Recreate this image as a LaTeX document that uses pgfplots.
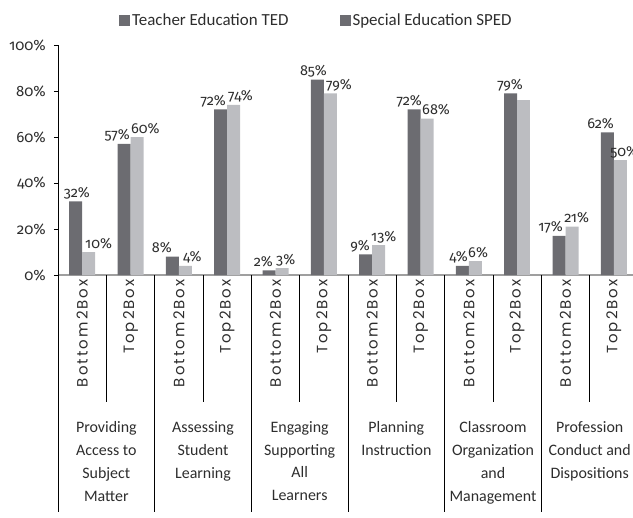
\documentclass[border=0pt]{standalone}
\usepackage{pgfplots}
\usepackage{pgfplotstable}
\pgfplotsset{compat=1.18}
\usepackage{fontspec}
\setmainfont{Carlito}
\newfontfamily\numfont{Fira Sans}[Numbers=OldStyle]
\newfontfamily\rotfont{Poppins}[LetterSpace=14]
\definecolor{ted}{RGB}{108,108,113}
\definecolor{sped}{RGB}{188,189,193}
\definecolor{txt}{RGB}{45,45,45}

% x = category centre, y = value, lx = x position of the value label's inner edge
\pgfplotstableread{
x y lx
0.5 32 0.662
1.5 57 1.490
2.5 8 2.359
3.5 72 3.476
4.5 2 4.449
5.5 85 5.566
6.5 9 6.456
7.5 72 7.531
8.5 4 8.483
9.5 79 9.621
10.5 17 10.449
11.5 62 11.504
}\tedtable

\pgfplotstableread{
x y lx
0.5 10 0.559
1.5 60 1.510
2.5 4 2.586
3.5 74 3.517
4.5 3 4.511
5.5 79 5.545
6.5 13 6.476
7.5 68 7.531
8.5 6 8.483
10.5 21 10.470
11.5 50 11.422
}\spedtable

\pgfplotstableread{
x y
9.5 76
}\spedextra

\pgfplotsset{
  barlab/.style={
    draw=none, mark=none, forget plot,
    point meta=\thisrow{y},
    nodes near coords={\numfont\pgfmathprintnumber{\pgfplotspointmeta}\%},
    every node near coord/.append style={font=\fontsize{14.5}{17}\selectfont, text=txt, anchor=#1, inner xsep=0pt, yshift=4bp},
  }
}

\begin{document}
\begin{tikzpicture}
\path[use as bounding box, clip] (-58bp,-243bp) rectangle (575bp,275bp);
\begin{axis}[
  at={(0,0)}, anchor=south west,
  scale only axis, width=580bp, height=230bp,
  xmin=0, xmax=12, ymin=0, ymax=100,
  clip=false,
  axis x line*=bottom, axis y line*=left,
  x axis line style={draw=gray!75, line width=1.6bp, -},
  y axis line style={draw=black, line width=0.7bp, -},
  /pgf/number format/assume math mode=true,
  ytick={0,20,...,100},
  yticklabel={\numfont\pgfmathprintnumber{\tick}\%},
  tick align=outside,
  major tick length=4bp,
  ytick style={draw=black, line width=0.6bp},
  yticklabel style={font=\fontsize{15}{18}\selectfont, text=txt, inner sep=0pt, xshift=-8bp},
  xtick={0.5,1.5,...,11.5},
  xticklabels={Bottom2Box,Top2Box,Bottom2Box,Top2Box,Bottom2Box,Top2Box,Bottom2Box,Top2Box,Bottom2Box,Top2Box,Bottom2Box,Top2Box},
  xtick style={draw=none},
  xticklabel style={rotate=90, anchor=east, font=\rotfont\fontsize{15}{17}\selectfont, text=txt, inner ysep=0pt, inner xsep=0pt},
  legend image code/.code={\fill[ted] (0bp,-5.5bp) rectangle (11bp,5.5bp);},
  legend style={at={(axis cs:1.2,110.6)}, anchor=west, draw=none, fill=none,
    legend columns=2, font=\fontsize{17}{19}\selectfont, text=txt,
    /tikz/every even column/.append style={column sep=49bp}},
]
\addplot[ybar, fill=ted, draw=none, bar width=13bp, bar shift=-6.5bp] table[x=x, y=y] {\tedtable};
\addlegendentry{Teacher Education TED}
\addplot[ybar, fill=sped, draw=none, bar width=13bp, bar shift=6.5bp] table[x=x, y=y] {\spedtable};
\addlegendentry{Special Education SPED}
\addplot[ybar, fill=sped, draw=none, bar width=13bp, bar shift=6.5bp, forget plot] table[x=x, y=y] {\spedextra};
\addplot[barlab=base east] table[x=lx, y=y] {\tedtable};
\addplot[barlab=base west] table[x=lx, y=y] {\spedtable};

\pgfplotsinvokeforeach{0,2,4,6,8,10,12}{
  \draw[black, line width=0.6bp] (axis cs:#1,0) -- ++(0,-237bp);
}
\pgfplotsinvokeforeach{1,3,5,7,9,11}{
  \draw[black, line width=0.6bp] (axis cs:#1,0) -- ++(0,-127bp);
}
\node[anchor=north, align=center, inner sep=0pt, text=txt, font=\fontsize{16}{23}\selectfont] at (axis cs:1,0) [yshift=-146bp] {Providing\\Access to\\Subject\\Matter};
\node[anchor=north, align=center, inner sep=0pt, text=txt, font=\fontsize{16}{23}\selectfont] at (axis cs:3,0) [yshift=-146bp] {Assessing\\Student\\Learning};
\node[anchor=north, align=center, inner sep=0pt, text=txt, font=\fontsize{16}{23}\selectfont] at (axis cs:5,0) [yshift=-146bp] {Engaging\\Supporting\\All\\Learners};
\node[anchor=north, align=center, inner sep=0pt, text=txt, font=\fontsize{16}{23}\selectfont] at (axis cs:7,0) [yshift=-146bp] {Planning\\Instruction};
\node[anchor=north, align=center, inner sep=0pt, text=txt, font=\fontsize{16}{23}\selectfont] at (axis cs:9,0) [yshift=-146bp] {Classroom\\Organization\\and\\Management};
\node[anchor=north, align=center, inner sep=0pt, text=txt, font=\fontsize{16}{23}\selectfont] at (axis cs:11,0) [yshift=-146bp] {Profession\\Conduct and\\Dispositions};
\end{axis}
\end{tikzpicture}
\end{document}
